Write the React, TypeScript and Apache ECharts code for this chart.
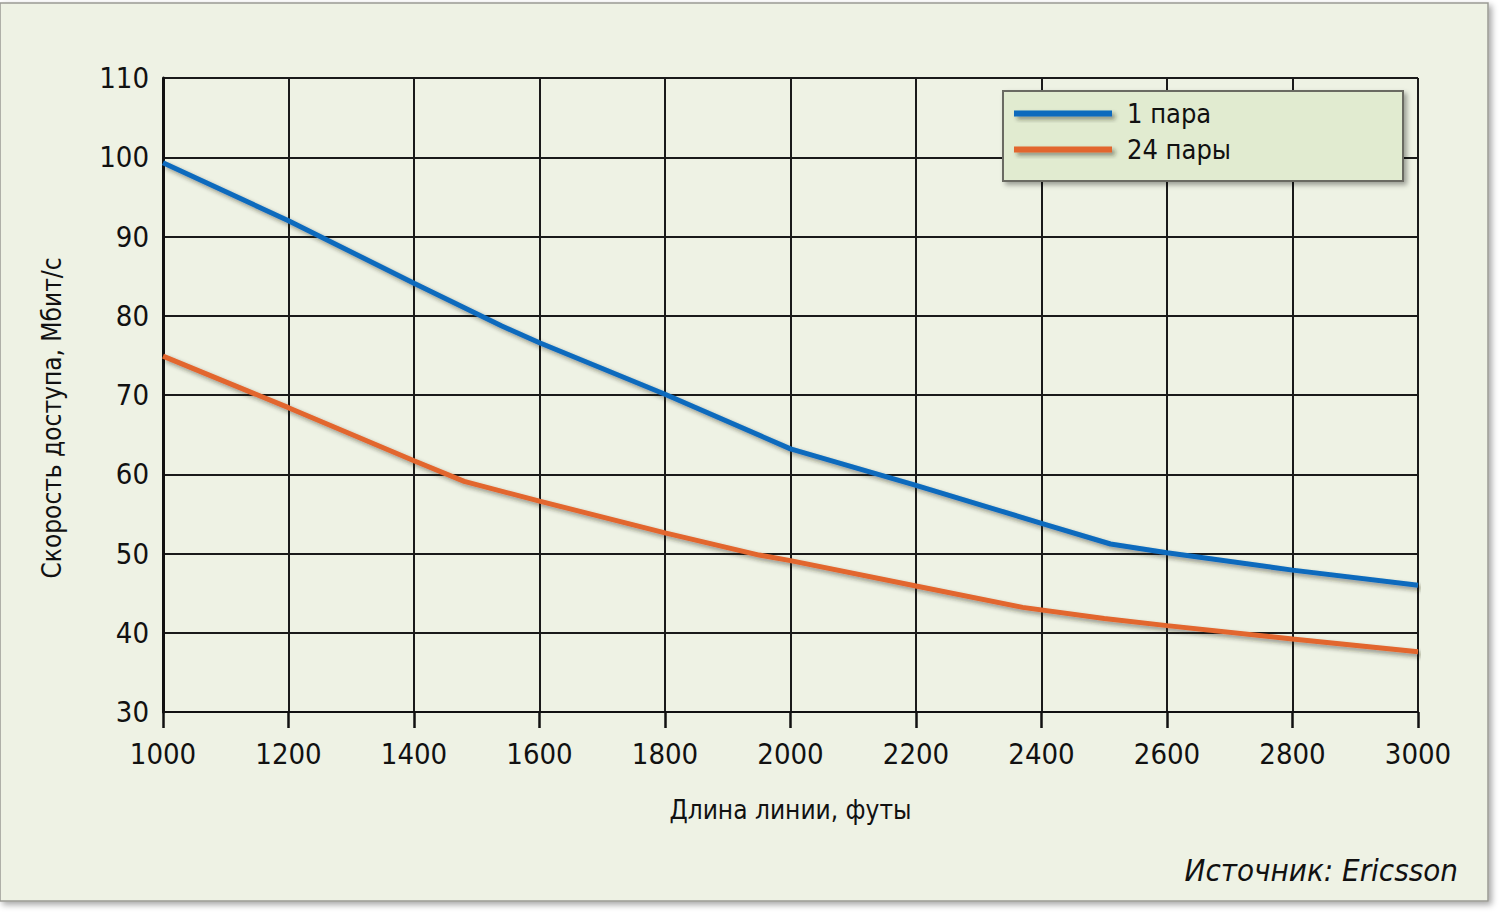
import React, { useEffect, useRef } from "react";
import * as echarts from "echarts";

const distance1 = [1000, 1200, 1400, 1540, 1600, 1800, 2000, 2200, 2400, 2510, 2600, 2800, 3000];
const speed1 = [99.3, 92.0, 84.1, 78.7, 76.6, 70.1, 63.2, 58.6, 53.8, 51.2, 50.1, 47.9, 46.0];

const distance24 = [1000, 1200, 1400, 1480, 1600, 1800, 1950, 2000, 2200, 2370, 2500, 2600, 2800, 3000];
const speed24 = [74.9, 68.4, 61.7, 59.1, 56.6, 52.6, 49.8, 49.1, 45.9, 43.2, 41.8, 40.9, 39.2, 37.6];

const seriesNames = ["1 пара", "24 пары"];
const xAxisName = "Длина линии, футы";
const yAxisName = "Скорость доступа, Мбит/с";
const sourceText = "Источник: Ericsson";

const FONT = "'Liberation Sans Narrow', 'DejaVu Sans Condensed', 'Roboto Condensed', sans-serif";

export default function App() {
  const ref = useRef<HTMLDivElement>(null);

  useEffect(() => {
    document.body.style.margin = "0";
    const chart = echarts.init(ref.current!, null, { renderer: "svg" });
    const shadow = {
      shadowColor: "rgba(40,40,20,0.45)",
      shadowBlur: 4,
      shadowOffsetX: 3,
      shadowOffsetY: 3,
    };
    chart.setOption({
      animation: false,
      backgroundColor: "#ffffff",
      textStyle: { fontFamily: FONT },
      graphic: [
        {
          type: "rect",
          z: -10,
          shape: { x: 0, y: 3, width: 1488, height: 898 },
          style: {
            fill: "#eef2e4",
            stroke: "#9a9a94",
            lineWidth: 1.5,
            shadowColor: "rgba(0,0,0,0.35)",
            shadowBlur: 6,
            shadowOffsetX: 3,
            shadowOffsetY: 3,
          },
        },
        {
          type: "rect",
          z: 5,
          shape: { x: 1003, y: 91, width: 400, height: 90 },
          style: {
            fill: "#e1ebd0",
            stroke: "#6b6b62",
            lineWidth: 2,
            shadowColor: "rgba(0,0,0,0.35)",
            shadowBlur: 5,
            shadowOffsetX: 3,
            shadowOffsetY: 3,
          },
        },
        {
          type: "text",
          z: 5,
          x: 1458,
          y: 870,
          style: {
            text: sourceText,
            fontFamily: FONT,
            fontStyle: "italic",
            fontSize: 31,
            fill: "#111111",
            align: "right",
            verticalAlign: "middle",
          },
        },
        {
          type: "text",
          z: 5,
          x: 52,
          y: 418,
          rotation: Math.PI / 2,
          style: {
            text: yAxisName,
            fontFamily: FONT,
            fontSize: 26,
            fill: "#111111",
            align: "center",
            verticalAlign: "middle",
          },
        },
      ],
      legend: {
        show: true,
        z: 10,
        orient: "vertical",
        left: 1009,
        top: 95,
        itemWidth: 98,
        itemHeight: 6,
        itemGap: 9,
        icon: "rect",
        data: seriesNames,
        textStyle: { fontSize: 27, color: "#111", fontFamily: FONT, padding: [0, 0, 0, 10] },
        itemStyle: { ...shadow },
      },
      grid: { left: 163, right: 81, top: 78, bottom: 200, containLabel: false },
      xAxis: {
        type: "value",
        min: 1000,
        max: 3000,
        interval: 200,
        name: xAxisName,
        nameLocation: "middle",
        nameGap: 85,
        nameTextStyle: { fontSize: 26, color: "#111", fontFamily: FONT },
        axisLine: { show: true, lineStyle: { color: "#111", width: 2 } },
        axisTick: { show: true, inside: false, length: 16, lineStyle: { color: "#111", width: 2.5 } },
        axisLabel: {
          fontSize: 29,
          color: "#111",
          margin: 27,
          fontFamily: FONT,
          formatter: (v: number) => String(v),
        },
        splitLine: { show: true, lineStyle: { color: "#1a1a1a", width: 2 } },
      },
      yAxis: {
        type: "value",
        min: 30,
        max: 110,
        interval: 10,
        axisLine: { show: true, lineStyle: { color: "#111", width: 3 } },
        axisTick: { show: false },
        axisLabel: { fontSize: 29, color: "#111", margin: 14, fontFamily: FONT },
        splitLine: { show: true, lineStyle: { color: "#1a1a1a", width: 2 } },
      },
      series: [
        {
          name: seriesNames[0],
          type: "line",
          data: distance1.map((d, i) => [d, speed1[i]]),
          showSymbol: false,
          symbol: "none",
          color: "#0a6bbd",
          lineStyle: { color: "#0a6bbd", width: 5, ...shadow },
          z: 3,
        },
        {
          name: seriesNames[1],
          type: "line",
          data: distance24.map((d, i) => [d, speed24[i]]),
          showSymbol: false,
          symbol: "none",
          color: "#e2662e",
          lineStyle: { color: "#e2662e", width: 5, ...shadow },
          z: 3,
        },
      ],
    });
    return () => chart.dispose();
  }, []);

  return (
    <div
      ref={ref}
      style={{ position: "absolute", left: 0, top: 0, width: 1499, height: 912 }}
    />
  );
}
